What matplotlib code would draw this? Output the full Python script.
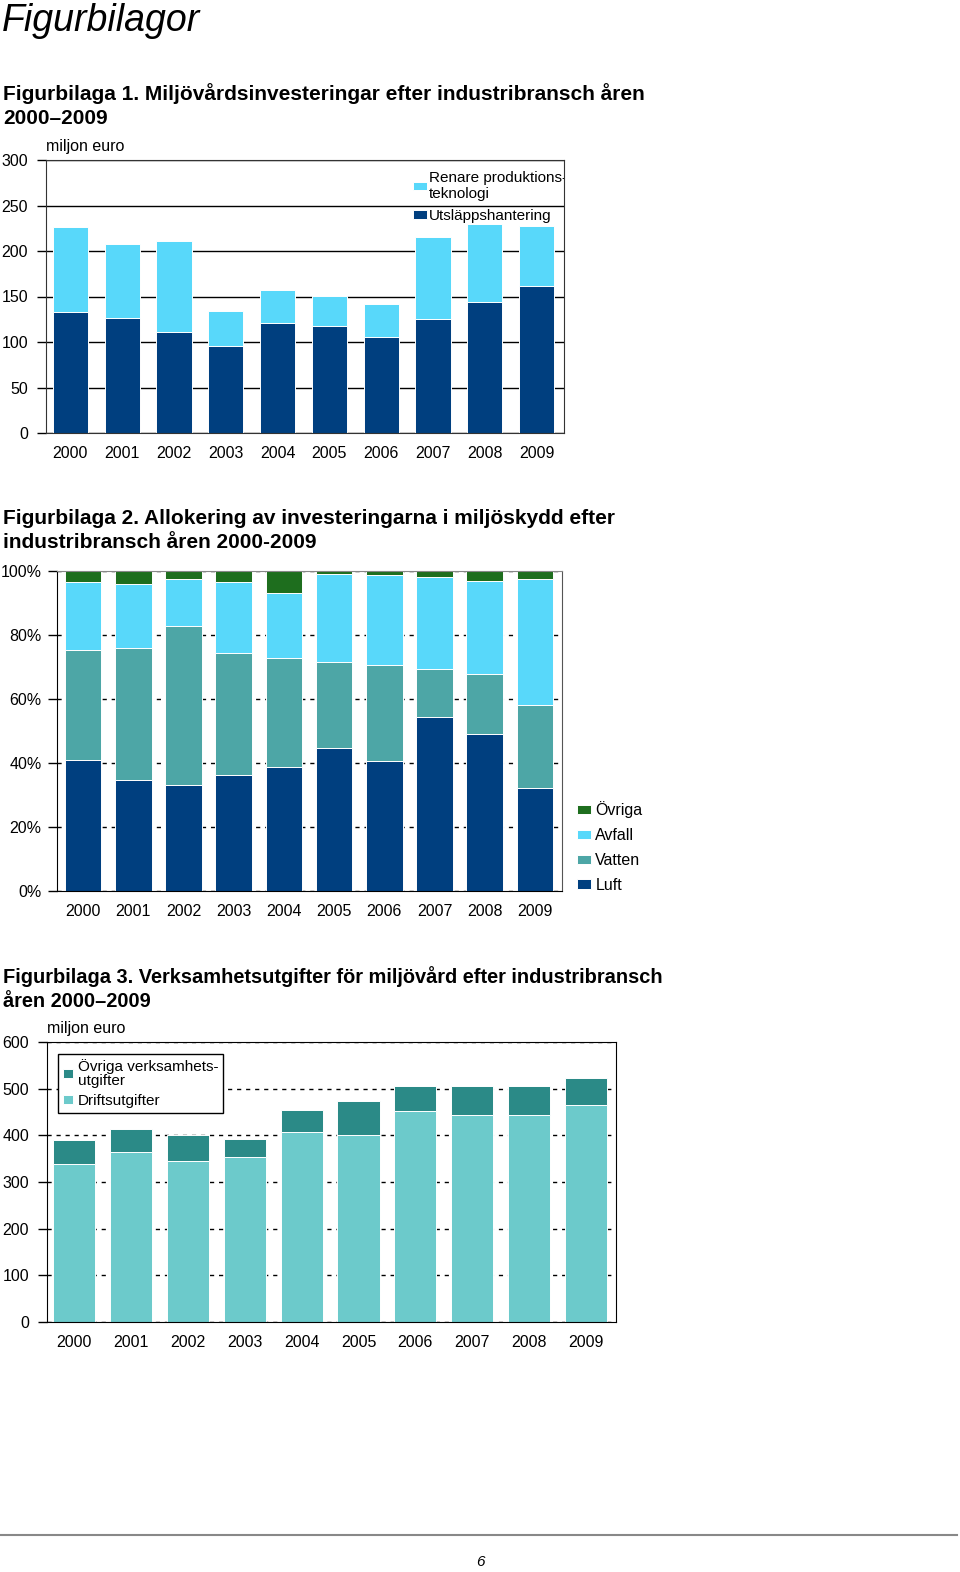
import numpy as np
import matplotlib
matplotlib.use('Agg')
import matplotlib.pyplot as plt

plt.rcParams['font.family'] = ['Liberation Sans', 'DejaVu Sans']

W, H = 960, 1572

years = ['2000', '2001', '2002', '2003', '2004', '2005', '2006', '2007', '2008', '2009']

# Figurbilaga 1 (miljon euro)
utslapp = [133, 126, 111, 96, 121, 118, 106, 125, 144, 162]
renare = [93, 82, 99.5, 38, 36.5, 32, 36, 90, 85.5, 66]

# Figurbilaga 2 (andel, %)
luft = [40.8, 34.7, 33.0, 36.4, 38.8, 44.7, 40.5, 54.5, 49.0, 32.3]
vatten = [34.4, 41.3, 49.9, 38.0, 34.1, 27.0, 30.1, 14.8, 18.7, 25.8]
avfall = [21.4, 19.9, 14.5, 22.3, 20.3, 27.4, 28.0, 28.9, 29.3, 39.4]
ovriga = [3.4, 4.1, 2.6, 3.3, 6.8, 0.9, 1.4, 1.8, 3.0, 2.5]

# Figurbilaga 3 (miljon euro)
drift = [338, 365, 345, 354, 408, 401, 453, 444, 444, 464]
ovriga_verks = [51, 49, 55, 39, 46, 72, 52, 61, 61, 59]

c_navy = '#003F7F'
c_cyan = '#58D8FA'
c_teal = '#4DA6A6'
c_green = '#1E6E1E'
c_drift = '#6CCACB'
c_ovr = '#2B8A87'


def ax_at(left, top, right, bottom):
    return fig.add_axes([left / W, 1 - bottom / H, (right - left) / W, (bottom - top) / H])


def style_axis(ax, fs=11.5, pad=6.5):
    ax.tick_params(axis='y', direction='out', length=6.5, width=1, pad=pad, labelsize=fs)
    ax.tick_params(axis='x', length=0, pad=9.5, labelsize=fs)
    ax.set_axisbelow(True)


fig = plt.figure(figsize=(W / 100, H / 100), dpi=100)

fig.text(2 / W, 1 - 21 / H, 'Figurbilagor', fontsize=27, style='italic', va='center', ha='left')

head_kw = dict(fontsize=15, fontweight='bold', va='center', ha='left', linespacing=1.3)
fig.text(3 / W, 1 - 105.5 / H,
         'Figurbilaga 1. Miljövårdsinvesteringar efter industribransch åren\n2000–2009', **head_kw)
fig.text(3 / W, 1 - 530.5 / H,
         'Figurbilaga 2. Allokering av investeringarna i miljöskydd efter\nindustribransch åren 2000-2009', **head_kw)
head_kw['fontsize'] = 14.4
fig.text(3 / W, 1 - 988.5 / H,
         'Figurbilaga 3. Verksamhetsutgifter för miljövård efter industribransch\nåren 2000–2009', **head_kw)

x = np.arange(len(years))

# ---- chart 1
ax1 = ax_at(46, 160, 564, 433)
b1 = ax1.bar(x, utslapp, width=0.68, color=c_navy, edgecolor='white', linewidth=0.7,
             label='Utsläppshantering')
b2 = ax1.bar(x, renare, width=0.68, bottom=utslapp, color=c_cyan, edgecolor='white', linewidth=0.7,
             label='Renare produktions-\nteknologi')
ax1.set_xlim(-0.47, 9.53)
ax1.set_ylim(0, 300)
ax1.set_yticks(range(0, 301, 50))
ax1.set_xticks(x)
ax1.set_xticklabels(years)
ax1.grid(axis='y', color='black', linewidth=1, linestyle='-')
for s in ax1.spines.values():
    s.set_color('#333333')
style_axis(ax1)
fig.text(46 / W, 1 - 147 / H, 'miljon euro', fontsize=11.5, va='center', ha='left')
leg1 = ax1.legend([b2, b1], ['Renare produktions-\nteknologi', 'Utsläppshantering'],
                  loc='upper left', bbox_to_anchor=(413 / W, 1 - 171 / H), bbox_transform=fig.transFigure,
                  frameon=False, fontsize=11, handlelength=0.9, handleheight=0.5, handletextpad=0.15,
                  borderpad=0, borderaxespad=0, labelspacing=0.55)
for t in leg1.get_texts():
    t.set_linespacing(1.15)
    t.set_clip_box(ax1.bbox)
    t.set_clip_on(True)

# ---- chart 2
ax2 = ax_at(57, 571, 562, 891)
bottoms = np.zeros(len(years))
handles2 = []
for vals, col, lab in [(luft, c_navy, 'Luft'), (vatten, c_teal, 'Vatten'),
                       (avfall, c_cyan, 'Avfall'), (ovriga, c_green, 'Övriga')]:
    h = ax2.bar(x, vals, width=0.73, bottom=bottoms, color=col, edgecolor='white', linewidth=0.7, label=lab)
    handles2.append(h)
    bottoms = bottoms + np.array(vals)
ax2.set_xlim(-0.52, 9.54)
ax2.set_ylim(0, 100)
ax2.set_yticks(range(0, 101, 20))
ax2.set_yticklabels([f'{v}%' for v in range(0, 101, 20)])
ax2.set_xticks(x)
ax2.set_xticklabels(years)
ax2.grid(axis='y', color='black', linewidth=1, linestyle=(0, (3, 3.5)))
ax2.spines['top'].set_color('#888888')
ax2.spines['right'].set_color('#555555')
style_axis(ax2, pad=4.5)
ax2.legend(handles2[::-1], ['Övriga', 'Avfall', 'Vatten', 'Luft'],
           loc='upper left', bbox_to_anchor=(577 / W, 1 - 801 / H), bbox_transform=fig.transFigure,
           frameon=False, fontsize=11.5, handlelength=0.9, handleheight=0.5, handletextpad=0.25,
           borderpad=0, borderaxespad=0, labelspacing=0.62)

# ---- chart 3
ax3 = ax_at(47, 1042, 616, 1322)
d1 = ax3.bar(x, drift, width=0.74, color=c_drift, edgecolor='white', linewidth=0.7, label='Driftsutgifter')
d2 = ax3.bar(x, ovriga_verks, width=0.74, bottom=drift, color=c_ovr, edgecolor='white', linewidth=0.7,
             label='Övriga verksamhets-\nutgifter')
ax3.set_xlim(-0.48, 9.53)
ax3.set_ylim(0, 600)
ax3.set_yticks(range(0, 601, 100))
ax3.set_xticks(x)
ax3.set_xticklabels(years)
ax3.grid(axis='y', color='black', linewidth=1, linestyle=(0, (3, 3.5)))
style_axis(ax3)
fig.text(47 / W, 1 - 1029 / H, 'miljon euro', fontsize=11.5, va='center', ha='left')
leg3 = ax3.legend([d2, d1], ['Övriga verksamhets-\nutgifter', 'Driftsutgifter'],
                  loc='upper left', bbox_to_anchor=(58 / W, 1 - 1054 / H), bbox_transform=fig.transFigure,
                  frameon=True, fancybox=False, edgecolor='black', framealpha=1, fontsize=11,
                  handlelength=0.7, handleheight=0.5, handletextpad=0.3, borderpad=0.3,
                  borderaxespad=0, labelspacing=0.4)
leg3.get_frame().set_linewidth(1)
for t in leg3.get_texts():
    t.set_linespacing(1.05)

# ---- footer
fig.add_artist(plt.Line2D([0, 957 / W], [1 - 1535 / H, 1 - 1535 / H], color='#888888', linewidth=1.5))
fig.text(480 / W, 1 - 1562 / H, '6', fontsize=11, style='italic', ha='center', va='center')

fig.savefig('out.png', dpi=100)
